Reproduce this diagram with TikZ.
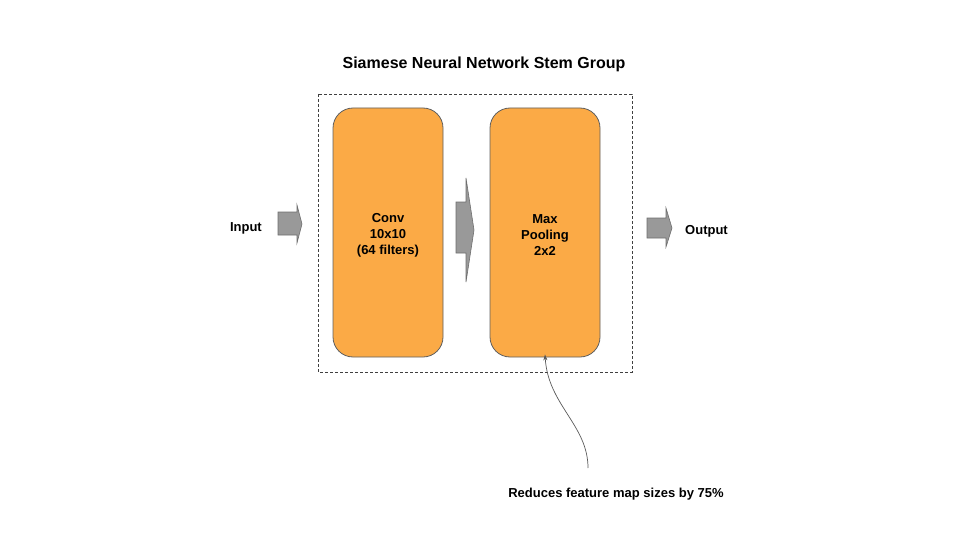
\documentclass[tikz,border=0pt]{standalone}
\usepackage{fontspec}
\setmainfont{Liberation Sans}
\usetikzlibrary{arrows.meta}
\definecolor{boxorange}{HTML}{FBAA46}
\definecolor{boxedge}{HTML}{5F5F5F}
\definecolor{arrowgray}{HTML}{999999}
\definecolor{arrowedge}{HTML}{6E6E6E}
\tikzset{
  layerbox/.style={draw=boxedge, fill=boxorange, rounded corners=20pt, line width=0.8pt,
    minimum width=110pt, minimum height=249pt, inner sep=0pt},
  lbl/.style={font=\bfseries\fontsize{13}{16}\selectfont, inner sep=0pt, align=center},
  blockarrow/.style={draw=arrowedge, fill=arrowgray, line width=0.6pt, line join=miter},
  groupbox/.style={draw=black!75, dashed, line width=0.6pt, dash pattern=on 3pt off 2pt},
  note/.style={draw=black!65, line width=0.7pt, -{Stealth[length=6pt,width=4pt]}}
}
\begin{document}
\begin{tikzpicture}[x=1pt,y=-1pt]
\useasboundingbox (0,0) rectangle (960,540);
\node[font=\bfseries\fontsize{16}{19}\selectfont, inner sep=0pt] (title) at (484,64) {Siamese Neural Network Stem Group};
\draw[groupbox] (318,94) rectangle (632,372);
\node[layerbox] (conv) at (388,232.5) {};
\node[layerbox] (pool) at (545,232.5) {};
\node[lbl] (convtext) at (388,235.5) {Conv\\10x10\\(64 filters)};
\node[lbl] (pooltext) at (545,235.5) {Max\\Pooling\\2x2};
% input arrow
\draw[blockarrow] (278,212) -- (297,212) -- (297,205) -- (302,224) -- (297,243) -- (297,235) -- (278,235) -- cycle;
% middle arrow
\draw[blockarrow] (456,202) -- (466,202) -- (466,178) -- (474,230) -- (466,282) -- (466,253) -- (456,253) -- cycle;
% output arrow
\draw[blockarrow] (647,218) -- (666,218) -- (666,208) -- (672,228) -- (666,247) -- (666,238) -- (647,238) -- cycle;
\node[lbl, anchor=east] (input) at (262,228) {Input};
\node[lbl, anchor=west] (output) at (685,231) {Output};
\node[lbl] (reduce) at (616,494) {Reduces feature map sizes by 75\%};
\coordinate (noteend) at (588,468);
\draw[note] (noteend) .. controls (588,425) and (548,405) .. ([yshift=3pt]pool.south);
\end{tikzpicture}
\end{document}
